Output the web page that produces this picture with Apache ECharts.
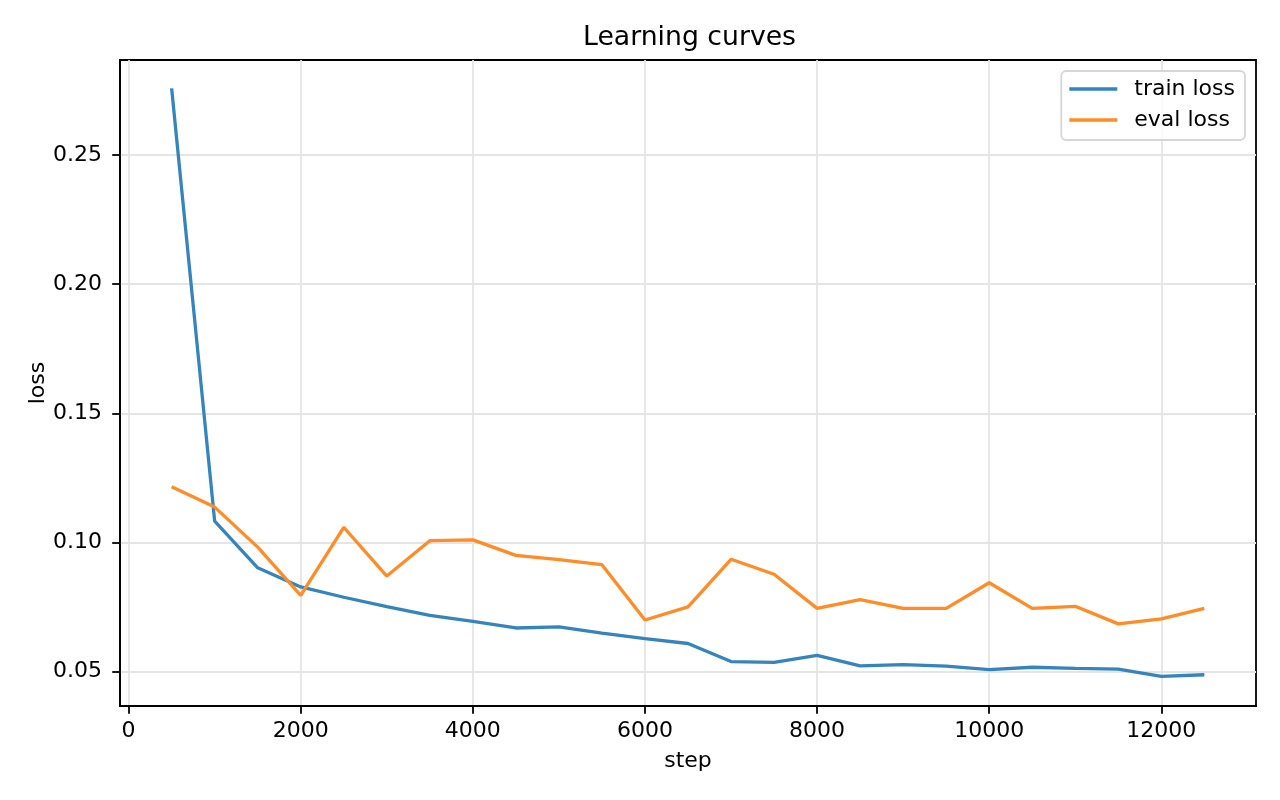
<!DOCTYPE html>
<html><head><meta charset="utf-8">
<script src="https://cdn.jsdelivr.net/npm/echarts@6/dist/echarts.min.js"></script>
<style>html,body{margin:0;padding:0;background:#fff}#c{width:1280px;height:800px}</style>
</head><body><div id="c"></div>
<script>
const steps = [500,1000,1500,2000,2500,3000,3500,4000,4500,5000,5500,6000,6500,7000,7500,8000,8500,9000,9500,10000,10500,11000,11500,12000,12500];
const trainLoss = [0.2758,0.1083,0.0902,0.0828,0.0788,0.0752,0.0718,0.0695,0.0669,0.0673,0.0649,0.0628,0.0609,0.0539,0.0536,0.0563,0.0522,0.0527,0.0521,0.0508,0.0517,0.0513,0.0510,0.0482,0.0488];
const evalLoss = [0.1216,0.1137,0.0982,0.0795,0.1059,0.0870,0.1007,0.1010,0.0950,0.0934,0.0914,0.0700,0.0751,0.0935,0.0877,0.0745,0.0779,0.0745,0.0745,0.0844,0.0745,0.0753,0.0685,0.0704,0.0745];
const xTicks = [0,2000,4000,6000,8000,10000,12000];
const yTicks = [0.05,0.10,0.15,0.20,0.25];
const seriesNames = ['train loss','eval loss'];

const FONT = 'DejaVu Sans';
const chart = echarts.init(document.getElementById('c'), null, {renderer:'canvas'});
const axisCommon = {
  axisLine:{show:true, onZero:false, lineStyle:{color:'#000', width:1.8}},
  axisTick:{show:true, length:7.8, inside:false, lineStyle:{color:'#000', width:1.8}},
  splitLine:{show:true, lineStyle:{color:'#e5e5e5', width:1.8}},
  nameMoveOverlap:false,
  nameTextStyle:{fontFamily:FONT, fontSize:22, color:'#000'}
};
chart.setOption({
  animation:false,
  backgroundColor:'#fff',
  title:{text:'Learning curves', left:583, top:25, padding:0,
    textStyle:{fontFamily:FONT, fontSize:26.7, fontWeight:'normal', color:'#000'}},
  grid:{left:120, right:24, top:60, bottom:94, containLabel:false, show:true, borderColor:'#000', borderWidth:1.8, backgroundColor:'transparent'},
  legend:{
    orient:'vertical', right:35, top:71,
    itemWidth:48, itemHeight:3.3, itemGap:9, icon:'rect',
    padding:[7,10,9,8],
    backgroundColor:'rgba(255,255,255,0.8)', borderColor:'#d6d6d6', borderWidth:1.8, borderRadius:5,
    textStyle:{fontFamily:FONT, fontSize:22, color:'#000', padding:[0,0,0,12], lineHeight:22},
    data:seriesNames
  },
  xAxis:Object.assign({}, axisCommon, {
    type:'value', min:-100, max:13100,
    name:'step', nameLocation:'middle', nameGap:44,
    axisTick:Object.assign({}, axisCommon.axisTick, {customValues:xTicks}),
    axisLabel:{customValues:xTicks, margin:14, fontFamily:FONT, fontSize:22, color:'#000', formatter:v=>String(v)}
  }),
  yAxis:Object.assign({}, axisCommon, {
    type:'value', min:0.0367, max:0.2868,
    name:'loss', nameLocation:'middle', nameGap:71,
    axisTick:Object.assign({}, axisCommon.axisTick, {customValues:yTicks}),
    axisLabel:{customValues:yTicks, margin:18, fontFamily:FONT, fontSize:22, color:'#000', formatter:v=>v.toFixed(2)}
  }),
  series:[
    {name:seriesNames[0], type:'line', data:steps.map((s,i)=>[s,trainLoss[i]]), showSymbol:false, symbol:'none',
      lineStyle:{color:'#3585bc', width:3.3}, itemStyle:{color:'#3585bc'}, z:2},
    {name:seriesNames[1], type:'line', data:steps.map((s,i)=>[s,evalLoss[i]]), showSymbol:false, symbol:'none',
      lineStyle:{color:'#ff8c26', width:3.3}, itemStyle:{color:'#ff8c26'}, z:3}
  ]
});
</script></body></html>
